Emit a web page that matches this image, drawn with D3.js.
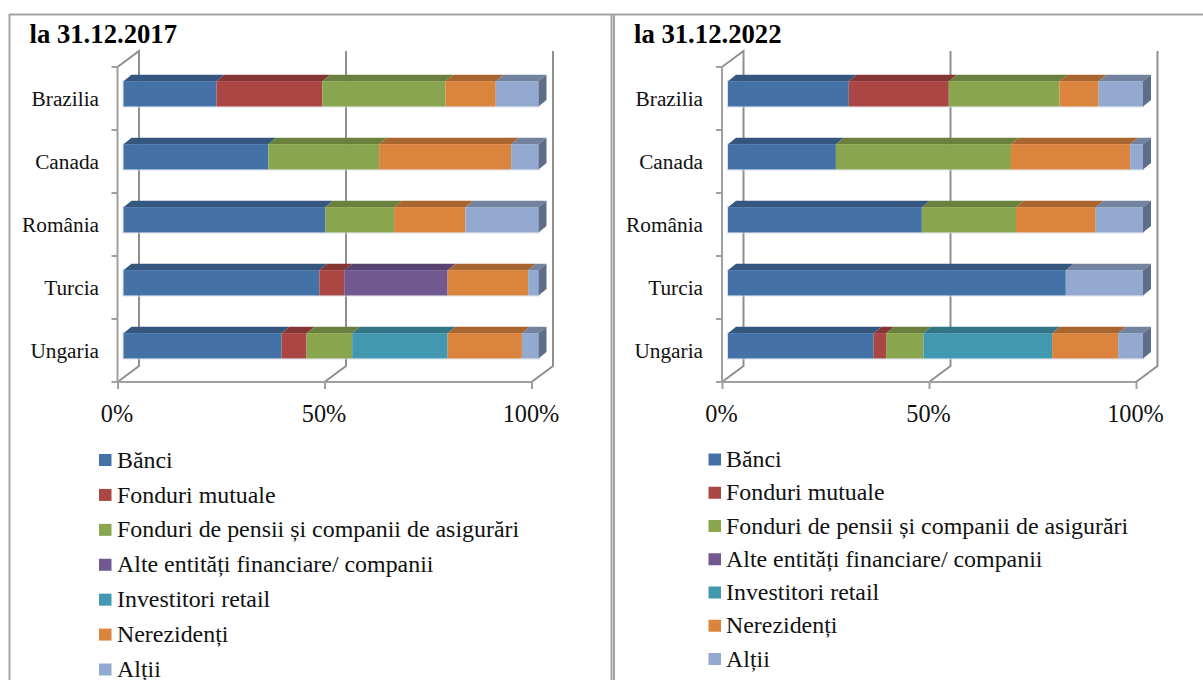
<!DOCTYPE html>
<html lang="ro">
<head>
<meta charset="UTF-8">
<title>Structura investitorilor</title>
<style>
    html, body { margin: 0; padding: 0; background: #fff; }
    svg { display: block; }
    text { font-family: "Liberation Serif", serif; fill: #111; }
    .title { font-size: 26.7px; font-weight: bold; fill: #000; }
    .cat { font-size: 21.3px; }
    .pct { font-size: 24.3px; }
    .leg { font-size: 23.9px; }
    .wall { fill: none; stroke: #8f8f8f; stroke-width: 2px; }
    .front { fill: none; stroke: #a0a0a0; stroke-width: 2px; }
    .frame { stroke: #a3a3a3; stroke-width: 2px; }
</style>
</head>
<body>
<script src="https://d3js.org/d3.v7.min.js"></script>
<script>
    const categories = ['Brazilia', 'Canada', 'România', 'Turcia', 'Ungaria'];
    const seriesNames = [
        'Bănci',
        'Fonduri mutuale',
        'Fonduri de pensii și companii de asigurări',
        'Alte entități financiare/ companii',
        'Investitori retail',
        'Nerezidenți',
        'Alții'
    ];
    const tickValues = [0, 50, 100];

    // one array per series, same order as categories
    const banci2017 = [22.4, 34.9, 48.6, 47.2, 38.1];
    const mutuale2017 = [25.5, 0, 0, 6.0, 6.0];
    const pensii2017 = [29.7, 26.7, 16.6, 0, 11.0];
    const alte2017 = [0, 0, 0, 24.9, 0];
    const retail2017 = [0, 0, 0, 0, 23.0];
    const nerez2017 = [12.1, 31.8, 17.2, 19.4, 17.9];
    const altii2017 = [10.3, 6.6, 17.6, 2.5, 4.0];

    const banci2022 = [29.1, 26.0, 46.7, 81.4, 35.1];
    const mutuale2022 = [24.1, 0, 0, 0, 3.0];
    const pensii2022 = [26.7, 42.2, 22.7, 0, 9.0];
    const alte2022 = [0, 0, 0, 0, 0];
    const retail2022 = [0, 0, 0, 0, 31.0];
    const nerez2022 = [9.4, 28.7, 19.2, 0, 15.9];
    const altii2022 = [10.7, 3.1, 11.4, 18.6, 6.0];

    const colors = ['#4471a6', '#aa4643', '#89a54e', '#71588f', '#4198af', '#db843d', '#93a9cf'];
    const topColors = ['#35577f', '#843634', '#6a803c', '#574470', '#327587', '#a9652f', '#72829f'];
    const sideColor = '#5e6e88';

    const width = 1203, height = 680;

    const svg = d3.select('body').append('svg')
        .attr('width', width)
        .attr('height', height);

    // page frame
    svg.append('line').attr('class', 'frame').attr('x1', 9).attr('x2', width).attr('y1', 14.5).attr('y2', 14.5);
    svg.append('line').attr('class', 'frame').attr('x1', 9.5).attr('x2', 9.5).attr('y1', 14).attr('y2', height);
    svg.append('line').attr('class', 'frame').attr('x1', 611.5).attr('x2', 611.5).attr('y1', 14).attr('y2', height);
    svg.append('line').attr('class', 'frame').attr('x1', 614).attr('x2', 614).attr('y1', 14).attr('y2', height);

    const stack = d3.stack().keys(d3.range(seriesNames.length));

    function drawPanel(cfg) {
        const g = svg.append('g');
        const rows = categories.map((c, i) => cfg.series.map(s => s[i]));
        const layers = stack(rows);

        const x = d3.scaleLinear().domain([0, 100]).range([cfg.x0, cfg.x0 + 414]);
        const y = d3.scaleBand().domain(categories).range([67, 382]);
        const xBar = d3.scaleLinear().domain([0, 100]).range([cfg.x0 + 6, cfg.x0 + 6 + 415]);

        const backDx = 21.5, backDy = 16;
        const barH = 25.3, barOffset = (y.step() - barH) / 2 - 4.7;
        const depthX = 8, depthY = 6.5;

        g.append('text').attr('class', 'title')
            .attr('x', cfg.titleX).attr('y', 43).text(cfg.title);

        // back wall gridlines and floor diagonals
        g.selectAll('path.grid').data(tickValues).join('path')
            .attr('class', 'wall grid')
            .attr('d', d => {
                const top = d === 0 ? `M${x(d)},67L${x(d) + backDx},${67 - backDy}` : `M${x(d) + backDx},${67 - backDy}`;
                return `${top}L${x(d) + backDx},${382 - backDy}L${x(d)},382`;
            });

        // value axis on the front edge
        const xAxis = d3.axisBottom(x).tickValues(tickValues).tickFormat(d => d + '%').tickSize(7).tickPadding(16);
        const ax = g.append('g').attr('transform', 'translate(0,382)').call(xAxis);
        ax.select('.domain').attr('class', 'front').attr('d', `M${x(0)},0H${x(100)}`);
        ax.selectAll('.tick line').attr('stroke', '#a0a0a0').attr('stroke-width', 2);
        ax.selectAll('.tick text').attr('class', 'pct').attr('fill', null).attr('dx', -1);

        // category axis, ticks sit between the bands
        const yAxis = d3.axisLeft(y).tickSize(0).tickPadding(x(0) - cfg.labelX);
        const ay = g.append('g').attr('transform', `translate(${x(0)},0)`).call(yAxis);
        ay.select('.domain').attr('class', 'front').attr('d', 'M0,66V383');
        ay.selectAll('.tick text').attr('class', 'cat').attr('fill', null).attr('dy', '0.35em');
        const edges = d3.range(categories.length + 1).map(i => 67 + i * y.step());
        g.selectAll('line.ytick').data(edges).join('line')
            .attr('class', 'ytick')
            .attr('x1', x(0) - 6).attr('x2', x(0))
            .attr('y1', d => d).attr('y2', d => d)
            .attr('stroke', '#a0a0a0').attr('stroke-width', 2);

        // bars: top faces, then front faces, then end cap
        const bars = g.selectAll('g.bar').data(categories).join('g')
            .attr('class', 'bar')
            .attr('transform', c => `translate(0,${y(c) + barOffset})`);

        bars.append('rect')
            .attr('x', xBar(0) - 0.5).attr('y', -0.5)
            .attr('width', xBar(100) - xBar(0) + 1).attr('height', barH + 1)
            .attr('fill', 'none').attr('stroke', '#d5dce8');

        layers.forEach((layer, si) => {
            const cells = layer.map((d, ci) => ({ a: d[0], b: d[1], c: categories[ci], si })).filter(d => d.b > d.a);
            const cg = g.append('g');
            cg.selectAll('path').data(cells).join('path')
                .attr('fill', topColors[si])
                .attr('d', d => {
                    const t = y(d.c) + barOffset;
                    return `M${xBar(d.a)},${t}L${xBar(d.a) + depthX},${t - depthY}H${xBar(d.b) + depthX}L${xBar(d.b)},${t}Z`;
                });
            cg.selectAll('rect').data(cells).join('rect')
                .attr('fill', colors[si])
                .attr('x', d => xBar(d.a))
                .attr('y', d => y(d.c) + barOffset)
                .attr('width', d => xBar(d.b) - xBar(d.a))
                .attr('height', barH);
        });

        g.selectAll('path.cap').data(categories).join('path')
            .attr('class', 'cap')
            .attr('fill', sideColor)
            .attr('d', c => {
                const t = y(c) + barOffset, e = xBar(100);
                return `M${e},${t}L${e + depthX},${t - depthY}V${t + barH - depthY}L${e},${t + barH}Z`;
            });

        // legend
        const ly = d3.scalePoint().domain(seriesNames).range(cfg.legendY);
        const leg = g.selectAll('g.leg').data(seriesNames).join('g')
            .attr('class', 'leg')
            .attr('transform', d => `translate(0,${ly(d)})`);
        leg.append('rect')
            .attr('x', cfg.swatchX).attr('y', -6)
            .attr('width', 12.5).attr('height', 12)
            .attr('fill', (d, i) => colors[i]);
        leg.append('text')
            .attr('x', cfg.legendX).attr('y', 7.6)
            .text(d => d);
    }

    drawPanel({
        title: 'la 31.12.2017', titleX: 29.5, x0: 117.5, labelX: 99,
        series: [banci2017, mutuale2017, pensii2017, alte2017, retail2017, nerez2017, altii2017],
        legendY: [460, 669.5], swatchX: 99, legendX: 117
    });
    drawPanel({
        title: 'la 31.12.2022', titleX: 634, x0: 722, labelX: 703,
        series: [banci2022, mutuale2022, pensii2022, alte2022, retail2022, nerez2022, altii2022],
        legendY: [459.5, 659], swatchX: 708.5, legendX: 726
    });
</script>
</body>
</html>
